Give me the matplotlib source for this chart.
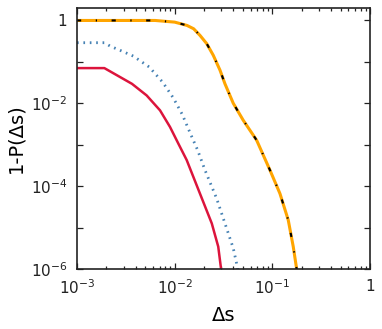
import numpy as np
import matplotlib
matplotlib.use('Agg')
import matplotlib.pyplot as plt
from matplotlib.ticker import FixedLocator, LogLocator, NullFormatter

# curve data (log10 values)
orange_logx = [-3.0, -2.2, -2.0, -1.874, -1.806, -1.741, -1.672, -1.605, -1.536, -1.485,
               -1.40, -1.298, -1.161, -1.025, -0.922, -0.837, -0.786, -0.751, -0.74]
orange_logy = [0.0, 0.0, -0.04, -0.12, -0.20, -0.36, -0.56, -0.84, -1.20, -1.53,
               -2.0, -2.41, -2.89, -3.61, -4.18, -4.82, -5.46, -6.0, -6.3]

blue_logx = [-3.0, -2.72, -2.66, -2.54, -2.424, -2.26, -2.123, -2.014, -1.922, -1.843,
             -1.765, -1.69, -1.57, -1.468, -1.40, -1.359, -1.345]
blue_logy = [-0.537, -0.537, -0.62, -0.74, -0.86, -1.125, -1.49, -1.87, -2.27, -2.71,
             -3.13, -3.61, -4.30, -5.02, -5.50, -5.94, -6.2]

red_logx = [-3.0, -2.72, -2.437, -2.287, -2.15, -2.048, -1.963, -1.877, -1.741, -1.62,
            -1.554, -1.526, -1.52]
red_logy = [-1.15, -1.15, -1.53, -1.81, -2.17, -2.57, -2.97, -3.37, -4.18, -4.90,
            -5.46, -5.98, -6.2]

ytick_vals = [1e-6, 1e-5, 1e-4, 1e-3, 1e-2, 1e-1, 1]
ytick_labels = ['10$^{-6}$', '', '10$^{-4}$', '', '10$^{-2}$', '', '1']
xtick_vals = [1e-3, 1e-2, 1e-1, 1]
xtick_labels = ['10$^{-3}$', '10$^{-2}$', '10$^{-1}$', '1']

plt.rcParams['mathtext.default'] = 'regular'
fig = plt.figure(figsize=(3.82, 3.29), dpi=100)
ax = fig.add_axes([0.2016, 0.1824, 0.767, 0.7933])

ox = 10 ** np.array(orange_logx)
oy = 10 ** np.array(orange_logy)
bx = 10 ** np.array(blue_logx)
by = 10 ** np.array(blue_logy)
rx = 10 ** np.array(red_logx)
ry = 10 ** np.array(red_logy)

ax.plot(rx, ry, color='#DC143C', lw=1.8)
ax.plot(bx, by, color='#4682B4', lw=2.0, linestyle=(0, (0.6, 1.7)))
ax.plot(ox, oy, color='#FFA500', lw=2.2)
ax.plot(ox, oy, color='black', lw=1.5, linestyle=(0, (2.0, 7.0, 0.6, 7.0)))

ax.set_xscale('log')
ax.set_yscale('log')
ax.set_xlim(1e-3, 1)
ax.set_ylim(1e-6, 2)

ax.yaxis.set_major_locator(FixedLocator(ytick_vals))
ax.set_yticklabels(ytick_labels)
ax.yaxis.set_minor_locator(FixedLocator([]))
ax.xaxis.set_major_locator(FixedLocator(xtick_vals))
ax.set_xticklabels(xtick_labels)
ax.xaxis.set_minor_locator(LogLocator(base=10, subs=np.arange(2, 10)))
ax.xaxis.set_minor_formatter(NullFormatter())

ax.tick_params(which='both', direction='in', top=True, right=True, width=0.9,
               labelsize=11, colors='#222222', pad=7)
ax.tick_params(which='major', length=4.5)
ax.tick_params(which='minor', length=2.5)
for sp in ax.spines.values():
    sp.set_linewidth(1.2)
    sp.set_color('#222222')

ax.set_xlabel('Δs', fontsize=14, labelpad=6)
ax.set_ylabel('1-P(Δs)', fontsize=14, labelpad=4)

fig.savefig('out.png', dpi=100)
